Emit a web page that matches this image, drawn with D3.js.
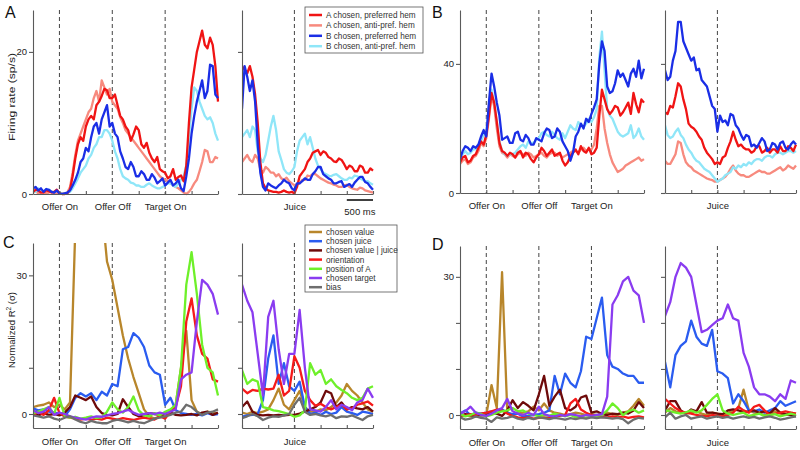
<!DOCTYPE html>
<html><head><meta charset="utf-8">
<script src="https://cdn.jsdelivr.net/npm/d3@7"></script>
<style>
body{margin:0;background:#fff;}
svg{display:block;font-family:"Liberation Sans",Arial,sans-serif;}
</style></head><body>
<svg id="chart" width="800" height="450"></svg>
<script>
// ---------- time bins (ms) ----------
// firing-rate panels (A, B): 50 ms bins
const tLeftFine = [-500,-450,-400,-350,-300,-250,-200,-150,-100,-50,0,50,100,150,200,250,300,350,400,450,500,550,600,650,700,750,800,850,900,950,1000,1050,1100,1150,1200,1250,1300,1350,1400,1450,1500,1550,1600,1650,1700,1750,1800,1850,1900,1950,2000,2050,2100,2150,2200,2250,2300,2350,2400,2450,2500,2550,2600,2650,2700,2750,2800,2850,2900,2950,3000];
const tRightFine = [-1000,-950,-900,-850,-800,-750,-700,-650,-600,-550,-500,-450,-400,-350,-300,-250,-200,-150,-100,-50,0,50,100,150,200,250,300,350,400,450,500,550,600,650,700,750,800,850,900,950,1000,1050,1100,1150,1200,1250,1300,1350,1400,1450,1500];
// regression panels (C, D): 100 ms bins
const tLeft = [-500,-400,-300,-200,-100,0,100,200,300,400,500,600,700,800,900,1000,1100,1200,1300,1400,1500,1600,1700,1800,1900,2000,2100,2200,2300,2400,2500,2600,2700,2800,2900,3000];
const tRight = [-1000,-900,-800,-700,-600,-500,-400,-300,-200,-100,0,100,200,300,400,500,600,700,800,900,1000,1100,1200,1300,1400,1500];
const ticksLeft = [-500,0,500,1000,1500,2000,2500,3000];
const ticksRight = [-1000,-500,0,500,1000,1500];
const eventsLeft = [0,1000,2000];
const eventNamesLeft = ["Offer On","Offer Off","Target On"];
const eventsRight = [0];
const eventNamesRight = ["Juice"];

// ---------- legends ----------
const firingNames = ["A chosen, preferred hem","A chosen, anti-pref. hem","B chosen, preferred hem","B chosen, anti-pref. hem"];
const firingColors = ["#f01414","#f78a7e","#1a2ee6","#8fe6f8"];
const varNames = ["chosen value","chosen juice","chosen value | juice","orientation","position of A","chosen target","bias"];
const varColors = ["#b8862b","#2a5cf0","#6e0a0a","#f51a1a","#6ef02a","#8a3cf0","#6e6e6e"];

// ---------- y axes ----------
const yDomA = [0,25.9], yTicksA = [0,20], yLabA = ["0","20"];
const yDomB = [0,56.7], yTicksB = [0,40], yLabB = ["0","40"];
const yDomC = [-3.03,37.0], yTicksC = [0,10,20,30], yLabC = ["0","","","30"];
const yDomD = [-3.04,36.7], yTicksD = [0,10,20,30], yLabD = ["0","","","30"];

// ---------- Panel A: firing rate (sp/s) ----------
const aL_redPref = [0.3,0.6,0.5,0.2,0.2,0.5,0.4,0.2,0.3,0.6,0.1,0.0,0,0.1,0.6,2.5,5.0,7.0,8.0,7.5,9.5,10.5,11.0,10.5,12.5,13.0,13.8,14.8,14.6,13.5,13.5,14.0,12.5,11.0,10.5,9.5,9.0,7.5,8.4,9.5,9.0,7.0,6.5,7.2,5.8,5.0,4.5,5.2,3.5,3.2,3.0,2.2,2.5,3.5,2.0,2.4,2.6,1.8,4.0,10.0,15.0,17.5,20.0,21.5,23.0,21.0,20.5,22.0,21.0,18.0,13.0];
const aL_salmon  = [0.2,0.4,0.1,0.3,0.3,0.1,0.2,0.4,0.1,0.2,0.1,0.0,0.1,0.2,1.0,3.0,5.5,7.5,8.5,9.5,10.5,11.5,12.0,13.5,14.5,13.0,16.0,15.0,14.0,14.8,13.0,12.5,12.0,10.8,10.0,9.0,8.5,8.0,7.5,7.0,6.5,6.0,5.5,5.0,4.5,4.0,3.5,3.0,2.5,2.2,2.0,1.8,1.5,1.2,1.0,0.8,0.5,0.2,0.0,0.3,0.8,1.5,2.0,3.2,4.5,6.2,6.0,4.5,4.5,5.2,5.0];
const aL_bluePref= [0.8,1.0,0.5,0.8,0.3,0.7,0.6,0.3,0.2,0.5,0.1,0.0,0.1,0.2,0.5,1.2,2.0,3.0,4.5,5.0,6.5,6.0,8.0,9.5,10.0,8.5,10.5,11.5,12.5,9.5,10.0,8.5,8.0,6.0,5.0,3.8,3.5,4.5,3.8,2.5,2.5,3.2,2.8,2.0,2.0,2.8,2.3,1.5,1.8,2.2,1.2,1.6,2.0,1.2,1.5,2.0,0.8,0.4,2.5,5.0,8.5,11.0,13.0,14.5,16.0,13.5,14.5,18.2,18.0,14.0,13.5];
const aL_cyan    = [0.5,0.3,0.8,0.5,0.4,0.6,0.6,0.3,0.3,0.4,0.2,0.1,0.1,0.2,0.3,0.8,1.5,2.2,3.0,3.5,4.0,5.0,5.5,6.5,7.0,8.0,8.0,9.0,9.0,8.5,7.5,6.0,5.0,3.5,2.5,2.2,2.0,1.6,1.5,1.2,1.2,1.0,1.0,1.3,1.5,1.2,1.0,0.8,0.8,1.0,1.2,1.5,1.5,1.2,1.0,1.5,2.0,2.5,4.0,8.0,12.0,15.0,14.5,13.0,12.0,11.0,10.5,10.8,10.0,8.5,7.5];
const aR_redPref = [18.0,17.5,17.0,18.0,16.5,14.0,10.0,4.5,1.5,0.8,0.5,0.4,0.3,0.3,0.2,0.3,0.5,0.3,0.2,0.3,0.1,1.0,2.5,3.0,3.5,4.5,5.0,5.8,6.0,6.2,5.5,6.0,5.8,5.2,5.0,4.6,4.5,5.0,4.8,4.2,3.5,4.0,3.8,3.2,3.2,4.0,3.8,3.0,3.0,3.6,3.3];
const aR_salmon  = [4.5,5.0,5.5,4.8,4.5,5.5,5.0,3.5,3.0,3.8,3.5,3.0,3.0,2.5,2.8,2.2,2.0,2.3,1.8,1.5,1.2,1.4,1.5,2.0,2.0,2.6,2.5,2.8,2.8,2.5,2.2,2.0,1.8,1.6,1.5,1.3,1.2,1.0,1.0,1.2,1.3,1.0,0.8,0.7,0.6,0.9,0.8,0.5,0.4,0.3,0.2];
const aR_bluePref= [12.0,18.0,16.5,14.5,16.0,13.0,7.0,3.0,1.0,0.5,1.5,1.2,1.0,0.8,1.2,1.5,2.0,1.7,1.5,0.8,0.5,1.5,1.5,1.8,2.2,2.0,2.0,2.8,3.2,3.8,3.8,2.8,2.5,2.2,2.0,1.5,1.5,1.7,1.8,1.0,1.2,1.4,1.0,1.6,2.0,2.4,2.4,1.7,1.5,1.0,0.6];
const aR_cyan    = [8.0,8.5,9.0,8.0,9.5,9.0,6.0,5.0,4.5,5.5,7.5,9.5,11.0,9.0,6.0,4.8,3.5,3.0,2.8,3.2,3.8,6.0,7.5,8.0,8.5,7.0,8.0,6.5,5.0,4.0,3.5,3.0,2.8,2.6,2.5,2.7,2.8,2.5,2.2,2.0,2.0,2.3,2.2,2.6,2.5,2.2,2.0,1.8,1.8,1.5,1.3];

// ---------- Panel B: firing rate (sp/s) ----------
const bL_redPref = [9.5,11.0,11.5,9.5,10.0,11.5,12.0,14.0,16.0,15.0,18.0,24.0,31.0,28.0,22.0,15.5,13.0,12.5,11.5,12.5,12.0,11.0,12.5,13.0,11.0,12.5,12.0,10.5,9.5,11.0,12.0,14.0,13.0,11.5,12.5,13.5,11.5,12.0,12.5,10.0,8.5,9.5,11.5,12.5,13.5,12.0,14.5,13.0,12.5,14.0,12.0,12.5,14.0,24.0,32.0,29.0,26.0,24.5,25.5,27.0,26.5,24.0,25.0,26.5,28.0,24.5,31.0,27.5,25.0,29.0,28.0];
const bL_salmon  = [9.0,10.0,10.5,9.0,9.5,11.0,11.5,13.0,15.5,14.5,17.0,23.0,30.0,27.0,20.0,14.5,12.5,12.0,11.0,12.0,11.5,11.0,12.0,12.5,12.0,11.5,12.5,12.0,11.0,11.5,12.0,12.5,11.5,11.0,12.0,12.5,12.5,11.5,12.0,11.0,11.5,12.0,12.5,13.0,13.0,12.5,13.5,14.0,13.0,13.5,13.5,15.0,20.0,27.0,27.0,20.0,15.5,12.0,9.5,8.0,6.5,7.0,7.5,8.5,9.0,9.5,10.0,10.5,11.0,10.0,10.5];
const bL_bluePref= [10.5,13.0,14.5,14.0,13.0,14.5,14.0,15.0,17.5,19.5,17.5,28.0,37.0,33.0,28.0,24.0,16.5,17.0,17.5,15.5,15.5,18.5,19.0,16.5,16.0,18.0,17.0,15.0,15.0,17.0,16.5,16.0,18.5,20.0,19.5,17.0,17.5,20.0,19.0,16.0,14.5,13.0,10.0,12.5,17.5,19.0,21.5,20.0,23.0,22.0,24.5,26.5,29.0,40.0,47.0,44.0,33.0,31.0,31.5,34.0,38.0,36.0,37.0,35.0,33.0,37.0,38.5,36.0,41.0,35.5,38.5];
const bL_cyan    = [11.0,12.0,13.0,12.0,12.5,13.5,13.5,14.5,16.0,18.0,19.0,26.0,32.0,28.0,22.0,16.0,13.0,12.0,11.5,12.0,12.0,12.5,13.5,14.5,15.0,14.0,16.0,15.5,15.5,16.5,17.0,18.5,19.0,18.0,17.5,19.0,18.0,17.0,16.5,18.5,17.0,19.0,21.0,20.0,19.5,22.0,21.0,20.5,21.5,23.0,22.0,23.5,26.0,42.0,50.0,38.0,26.0,24.0,23.0,21.0,19.0,18.0,17.5,18.0,18.5,21.0,17.0,18.0,20.0,17.5,16.5];
const bR_redPref = [25.0,24.5,27.0,26.5,30.0,34.0,33.0,29.0,26.0,21.5,20.5,20.0,19.0,17.5,16.5,14.0,12.5,11.5,10.5,9.0,9.5,9.0,11.0,11.5,14.0,16.0,19.0,16.5,14.5,15.0,14.0,13.5,13.5,12.5,13.0,14.5,14.5,12.5,13.0,14.0,12.5,13.5,13.5,12.5,14.5,13.0,13.0,14.5,14.0,13.0,15.0];
const bR_salmon  = [10.0,9.0,9.0,10.5,12.0,16.0,15.5,12.0,9.5,8.5,8.0,7.0,6.5,6.0,5.5,5.0,4.5,4.2,4.0,3.5,3.5,4.0,4.5,5.0,6.0,7.5,8.5,7.0,6.0,5.5,5.5,5.0,5.0,5.5,6.0,6.5,7.0,6.5,6.5,6.0,6.0,6.5,7.0,7.5,8.0,7.0,7.5,8.5,8.0,7.5,8.5];
const bR_bluePref= [38.0,35.0,36.0,41.0,44.0,53.0,53.0,47.0,45.0,43.0,41.0,42.0,38.0,38.5,35.0,34.0,33.0,30.0,27.0,26.0,19.0,24.0,22.0,22.5,21.0,24.5,24.0,21.0,20.0,18.0,16.5,18.0,17.5,14.5,15.0,14.0,15.5,17.0,16.0,13.0,13.5,15.5,15.0,13.5,15.5,16.0,14.0,13.5,15.0,16.0,15.0];
const bR_cyan    = [21.0,18.0,17.0,17.5,19.0,20.0,18.0,17.0,15.0,13.5,12.5,11.0,10.0,9.5,8.5,7.5,7.0,6.5,5.5,4.5,3.5,4.0,4.5,5.5,6.0,6.5,8.0,7.5,8.5,8.0,9.0,8.5,9.5,9.0,10.0,10.5,10.5,10.0,11.0,11.5,11.5,11.0,12.0,12.5,12.5,12.0,12.5,13.0,13.0,12.5,13.0];

// ---------- Panel C: normalized R2 ----------
const cL_value   = [1.5,1.8,2.0,2.5,1.5,2.0,1.0,2.5,40,60,60,60,60,45,33,29,23,17,12,8,4.5,1.0,-0.5,-1.0,-0.5,0.0,0.5,2.0,10.0,18.0,3.0,0.5,0.0,0.5,0.3,0.0];
const cL_juice   = [1.2,0.8,1.0,0.5,0.3,0.1,-0.5,1.0,3.5,4.5,3.8,4.5,3.0,4.8,4.0,6.5,6.0,14.0,14.5,17.5,16.5,14.5,10.5,9.0,8.5,2.0,3.5,0.8,0.2,0.0,-0.2,0.0,-0.3,0.2,-0.2,0.0];
const cL_valJuice= [0.0,-0.3,0.2,-0.2,0.0,-0.3,0.3,1.5,4.0,3.5,3.0,3.8,1.5,0.2,-0.2,-0.3,0.0,3.2,1.5,0.0,-0.5,-0.3,0.2,0.0,-0.2,0.0,0.3,-0.2,-0.3,-0.2,0.0,-0.3,0.3,0.5,-0.2,0.3];
const cL_orient  = [-0.3,0.5,-0.2,0.8,3.5,0.2,-0.5,-0.8,-1.0,-1.2,-1.0,-1.3,-1.0,-1.2,-0.8,-1.0,-1.2,-0.9,-1.1,-1.3,-1.0,-0.8,-1.0,-1.2,-0.5,-1.0,0.5,1.5,6.0,20.0,25.0,17.0,13.0,12.0,7.5,7.0];
const cL_posA    = [0.2,0.5,1.0,1.5,0.0,3.5,-0.5,-0.8,-0.6,-1.0,-0.8,-0.5,-0.9,-0.7,0.5,2.5,1.0,0.3,1.5,3.8,0.8,-0.3,-0.5,0.2,-0.3,0.5,1.0,2.0,10.0,28.0,35.0,26.0,15.0,10.0,9.0,4.0];
const cL_target  = [0.8,0.2,0.5,1.5,-0.2,0.3,0.0,-0.5,-0.8,-1.0,-1.2,-0.8,-0.5,-0.6,-0.3,0.0,0.2,0.5,0.9,0.3,-0.2,0.0,0.2,0.0,0.3,0.0,0.5,1.0,7.5,8.5,9.0,20.0,29.0,28.0,26.0,21.5];
const cL_bias    = [-0.3,-0.5,-0.8,-0.5,-1.0,-1.3,-0.8,-0.5,-1.2,-1.7,-2.0,-1.5,-1.8,-2.0,-2.0,-1.5,-1.2,-1.5,-1.8,-1.5,-1.8,-2.0,-1.5,-1.0,-0.8,-0.5,-0.2,0.3,0.5,2.0,1.5,0.5,-0.2,0.3,0.5,1.0];
const cR_value   = [0.3,0.0,0.5,0.2,0.5,1.0,3.0,5.5,2.0,1.0,3.0,5.0,1.5,0.5,0.5,1.0,0.8,1.5,2.5,4.0,6.5,5.0,4.0,2.5,1.0,0.5];
const cR_juice   = [-0.6,-0.3,-0.2,0.0,3.0,12.0,17.0,6.5,11.0,6.0,5.0,7.0,1.5,0.0,0.3,-0.2,0.5,0.0,0.3,1.5,0.5,0.2,-0.2,0.5,0.3,0.0];
const cR_valJuice= [1.5,2.7,0.5,-0.2,-0.3,-0.2,-0.3,-0.2,-0.3,-0.2,-0.2,0.1,0.5,1.0,1.5,2.5,5.0,4.5,1.5,2.5,1.0,1.5,1.2,1.0,1.5,0.5];
const cR_orient  = [5.5,4.5,5.2,5.0,5.5,5.3,5.5,8.5,4.0,5.0,12.5,10.0,5.0,3.0,1.8,2.2,1.5,1.0,1.5,2.0,1.0,1.2,2.0,2.3,2.7,1.8];
const cR_posA    = [9.5,6.5,7.5,7.0,1.5,1.2,0.8,0.6,0.3,0.0,-0.6,-0.3,0.8,11.0,8.5,9.5,6.5,7.5,6.0,5.2,4.5,3.5,3.0,3.5,5.5,6.0];
const cR_target  = [28.0,24.5,22.0,13.0,4.0,21.0,24.5,14.0,6.5,13.0,13.0,22.5,10.0,1.0,0.8,0.5,1.5,3.0,1.0,2.0,1.5,0.8,2.5,3.0,5.5,3.5];
const cR_bias    = [-0.9,-0.5,0.0,-0.5,-1.3,-0.8,-0.5,-0.6,-0.3,0.0,2.0,3.5,0.5,-0.2,0.0,-0.3,-0.5,-0.2,-0.9,-0.5,-0.6,-0.3,-0.8,-1.3,-0.5,-0.2];

// ---------- Panel D: normalized R2 ----------
const dL_value   = [-0.2,0.0,-0.3,0.2,-0.2,0.0,6.5,1.5,31.0,0.5,0.0,0.3,0.5,0.8,1.8,1.0,2.5,1.0,0.5,0.3,0.0,0.2,0.5,0.3,0.0,0.2,0.0,0.3,0.5,0.2,0.0,0.5,0.8,2.0,3.5,2.0];
const dL_juice   = [0.3,1.0,0.0,0.5,0.3,0.5,0.8,0.3,1.2,0.5,0.2,0.3,-0.3,-0.2,0.0,0.2,0.5,1.0,8.5,4.5,9.0,7.0,6.0,9.5,17.0,16.5,21.0,25.5,13.0,10.5,10.0,9.0,8.5,8.5,7.0,7.0];
const dL_valJuice= [-0.2,0.2,0.0,-0.3,0.2,0.0,0.5,0.3,-0.2,1.0,3.2,1.5,2.8,2.0,1.0,4.5,8.5,2.0,4.0,5.5,1.5,1.0,1.8,3.8,4.2,0.5,0.8,0.2,0.0,0.3,0.2,0.5,0.3,1.0,2.8,1.5];
const dL_orient  = [0.0,-0.2,0.2,0.0,0.3,0.5,0.8,1.2,1.0,0.3,-0.2,-0.5,-0.7,-0.5,-0.8,-0.6,-0.5,-0.7,-0.3,-0.2,0.0,2.5,3.5,1.2,0.5,0.0,-0.2,-0.4,-0.5,-0.3,-0.5,-0.3,-0.6,-0.4,-0.3,-0.5];
const dL_posA    = [0.3,-0.3,0.0,0.5,0.2,-0.3,0.0,0.5,0.8,1.0,1.5,0.8,1.0,0.3,0.0,-0.3,0.0,-0.2,0.3,0.0,-0.3,0.0,-0.5,-0.3,-0.6,-0.3,-0.2,0.0,1.0,2.5,1.5,0.0,0.8,1.2,0.5,1.0];
const dL_target  = [0.3,0.8,1.8,0.5,0.0,-0.2,0.3,1.0,1.5,3.5,0.8,0.3,0.0,0.5,0.0,1.8,0.2,-0.2,-0.3,0.0,-0.2,0.2,0.0,-0.3,0.0,-0.2,0.0,0.2,4.0,24.0,26.0,29.0,30.0,27.0,26.0,20.0];
const dL_bias    = [-0.5,-1.0,-0.8,-0.3,-0.6,-0.8,-1.5,-0.5,-0.8,-0.6,-0.3,-0.8,-1.0,-0.6,-0.9,-0.5,-0.7,-0.9,-0.6,-0.8,-1.0,-0.7,-0.9,-0.6,-0.8,-0.5,-0.7,-0.5,-0.6,-0.8,-0.6,-0.9,-1.8,-1.0,-0.6,-0.8];
const dR_value   = [0.5,1.5,0.8,0.5,0.3,0.5,0.8,0.3,0.0,0.5,0.3,0.0,0.5,0.8,1.5,5.5,1.0,0.5,0.3,0.0,0.5,0.8,0.3,0.0,0.5,0.3];
const dR_juice   = [11.5,6.0,13.0,15.0,16.0,20.5,17.0,15.5,15.0,18.5,9.5,9.0,8.0,2.5,4.5,3.0,1.0,0.8,1.2,0.5,1.0,1.5,3.0,2.0,2.5,3.0];
const dR_valJuice= [1.0,3.0,3.0,1.0,0.3,1.2,0.8,2.8,0.5,0.5,0.3,0.2,1.0,1.2,1.0,0.7,0.8,1.0,0.5,0.8,0.3,1.5,0.5,0.2,0.0,-0.3];
const dR_orient  = [3.5,2.5,1.5,0.8,0.5,0.3,0.0,-0.2,-0.3,0.0,-0.2,-0.3,0.0,0.5,1.8,1.0,0.5,1.8,2.2,1.0,0.0,0.3,0.5,0.8,0.5,0.3];
const dR_posA    = [1.0,0.8,0.5,0.3,0.6,1.0,0.5,1.0,2.2,3.5,4.5,1.0,0.3,0.0,0.3,0.5,-0.2,0.0,0.3,-0.2,0.0,0.2,-0.3,0.0,0.3,0.0];
const dR_target  = [21.5,24.5,30.0,33.0,32.0,30.0,24.0,18.0,18.5,19.5,20.5,21.0,24.0,21.0,20.5,13.5,10.5,6.0,4.5,4.5,4.0,3.0,4.5,3.5,7.5,7.0];
const dR_bias    = [-0.5,0.5,-0.8,-0.3,0.0,-0.8,-0.5,-0.3,-0.8,-0.5,-0.3,-0.6,-0.4,-0.8,-0.5,-0.3,-0.6,-0.4,-0.8,-0.5,-0.3,-0.6,-1.0,-0.8,-0.5,-0.3];

// ---------- drawing ----------
const svg = d3.select("#chart");
const AXIS = "#5a5a5a", TXT = "#222";
let clipId = 0;

function subplot(cfg) {
  const g = svg.append("g");
  const x = d3.scaleLinear().domain(cfg.tDom).range(cfg.xRange);
  const y = d3.scaleLinear().domain(cfg.yDom).range(cfg.yRange);
  const yb = cfg.yRange[0], yt = cfg.yRange[1];
  cfg.events.forEach(e => {
    g.append("line").attr("x1", x(e)).attr("x2", x(e)).attr("y1", yt).attr("y2", yb)
      .attr("stroke", "#444").attr("stroke-width", 1).attr("stroke-dasharray", "4,3");
  });
  const id = "clip" + (clipId++);
  svg.append("clipPath").attr("id", id).append("rect")
    .attr("x", cfg.xRange[0]).attr("y", yt).attr("width", cfg.xRange[1] - cfg.xRange[0] + 2).attr("height", yb - yt + 2);
  const line = d3.line().x((d, i) => x(cfg.t[i])).y(d => y(d));
  const lg = g.append("g").attr("clip-path", `url(#${id})`);
  cfg.order.forEach(k => {
    lg.append("path").datum(cfg.series[k]).attr("d", line).attr("fill", "none")
      .attr("stroke", cfg.colors[k]).attr("stroke-width", 2.3).attr("stroke-linejoin", "round");
  });
  const names = new Map(cfg.events.map((e, i) => [e, cfg.eventNames[i]]));
  const xa = g.append("g").attr("transform", `translate(0,${yb})`)
    .call(d3.axisBottom(x).tickValues(cfg.ticks).tickSize(-3).tickSizeOuter(0).tickPadding(cfg.xPad)
      .tickFormat(d => names.get(d) || ""));
  const ya = g.append("g").attr("transform", `translate(${cfg.xRange[0]},0)`)
    .call(d3.axisLeft(y).tickValues(cfg.yTicks).tickSize(4).tickSizeOuter(0).tickPadding(2)
      .tickFormat((d, i) => cfg.showY ? cfg.yLabels[i] : ""));
  [xa, ya].forEach(a => {
    a.select(".domain").attr("stroke", AXIS).attr("stroke-width", 1.1);
    a.selectAll(".tick line").attr("stroke", AXIS).attr("stroke-width", 1.1);
    a.selectAll("text").attr("fill", TXT).style("font-size", "9.5px").style("font-family", "Liberation Sans, Arial, sans-serif");
  });
  return {x, y};
}

const firingOrder = [1, 3, 0, 2];
const varOrder = [0, 1, 2, 3, 4, 5, 6];

const panelDefs = [
  {tL: tLeftFine, tR: tRightFine,
   L: [aL_redPref, aL_salmon, aL_bluePref, aL_cyan], R: [aR_redPref, aR_salmon, aR_bluePref, aR_cyan],
   colors: firingColors, order: firingOrder, yDom: yDomA, yTicks: yTicksA, yLabels: yLabA,
   xl: [33, 218], xr: [242, 373], yRange: [194, 10], xPad: 9},
  {tL: tLeftFine, tR: tRightFine,
   L: [bL_redPref, bL_salmon, bL_bluePref, bL_cyan], R: [bR_redPref, bR_salmon, bR_bluePref, bR_cyan],
   colors: firingColors, order: firingOrder, yDom: yDomB, yTicks: yTicksB, yLabels: yLabB,
   xl: [460, 644], xr: [665, 796], yRange: [193, 10], xPad: 9},
  {tL: tLeft, tR: tRight,
   L: [cL_value, cL_juice, cL_valJuice, cL_orient, cL_posA, cL_target, cL_bias],
   R: [cR_value, cR_juice, cR_valJuice, cR_orient, cR_posA, cR_target, cR_bias],
   colors: varColors, order: varOrder, yDom: yDomC, yTicks: yTicksC, yLabels: yLabC,
   xl: [33, 218], xr: [242, 373], yRange: [428, 243], xPad: 10},
  {tL: tLeft, tR: tRight,
   L: [dL_value, dL_juice, dL_valJuice, dL_orient, dL_posA, dL_target, dL_bias],
   R: [dR_value, dR_juice, dR_valJuice, dR_orient, dR_posA, dR_target, dR_bias],
   colors: varColors, order: varOrder, yDom: yDomD, yTicks: yTicksD, yLabels: yLabD,
   xl: [460, 644], xr: [665, 796], yRange: [429, 246], xPad: 10}
];

const scales = panelDefs.map(p => {
  const left = subplot({tDom: [p.tL[0], p.tL[p.tL.length - 1]], xRange: p.xl, yDom: p.yDom, yRange: p.yRange,
    t: p.tL, series: p.L, colors: p.colors, order: p.order, events: eventsLeft, eventNames: eventNamesLeft,
    ticks: ticksLeft, yTicks: p.yTicks, yLabels: p.yLabels, showY: true, xPad: p.xPad});
  const right = subplot({tDom: [p.tR[0], p.tR[p.tR.length - 1]], xRange: p.xr, yDom: p.yDom, yRange: p.yRange,
    t: p.tR, series: p.R, colors: p.colors, order: p.order, events: eventsRight, eventNames: eventNamesRight,
    ticks: ticksRight, yTicks: p.yTicks, yLabels: p.yLabels, showY: false, xPad: p.xPad});
  return {left, right};
});

// panel letters
[["A", 5, 18], ["B", 432, 18], ["C", 3, 248], ["D", 432, 250]].forEach(([s, px, py]) => {
  svg.append("text").attr("x", px).attr("y", py).text(s).attr("fill", "#111")
    .style("font-size", "16px").style("font-family", "Liberation Sans, Arial, sans-serif");
});

// y titles
svg.append("text").attr("transform", "translate(15,97) rotate(-90)").attr("text-anchor", "middle")
  .attr("fill", TXT).style("font-size", "9.5px").attr("textLength", 88).attr("lengthAdjust", "spacingAndGlyphs")
  .text("Firing rate (sp/s)");
const t2 = svg.append("text").attr("transform", "translate(15,330) rotate(-90)").attr("text-anchor", "middle")
  .attr("fill", TXT).style("font-size", "9.5px");
t2.append("tspan").text("Normalized R");
t2.append("tspan").attr("dy", -4).style("font-size", "6.5px").text("2");
t2.append("tspan").attr("dy", 4).text(" (σ)");

// scale bar (500 ms) in panel A right
{
  const xr = scales[0].right.x;
  const t1 = tRightFine[tRightFine.length - 1];
  svg.append("line").attr("x1", xr(t1 - 500)).attr("x2", xr(t1)).attr("y1", 200).attr("y2", 200)
    .attr("stroke", "#111").attr("stroke-width", 1.6);
  svg.append("text").attr("x", (xr(t1 - 500) + xr(t1)) / 2).attr("y", 215).attr("text-anchor", "middle")
    .attr("fill", TXT).style("font-size", "9.5px").text("500 ms");
}

// legends
function legend(x0, y0, w, h, first, step, names, colors) {
  const g = svg.append("g");
  g.append("rect").attr("x", x0).attr("y", y0).attr("width", w).attr("height", h)
    .attr("fill", "#fff").attr("stroke", "#555").attr("stroke-width", 0.8);
  names.forEach((n, i) => {
    const yy = first + i * step;
    g.append("line").attr("x1", x0 + 4).attr("x2", x0 + 17).attr("y1", yy).attr("y2", yy)
      .attr("stroke", colors[i]).attr("stroke-width", 2.5);
    g.append("text").attr("x", x0 + 21).attr("y", yy + 3).text(n).attr("fill", "#333")
      .style("font-size", "8.2px");
  });
}
legend(305, 7, 118, 46, 15, 10.4, firingNames, firingColors);
legend(305, 225, 92, 67, 232, 9.2, varNames, varColors);
</script>
</body></html>
